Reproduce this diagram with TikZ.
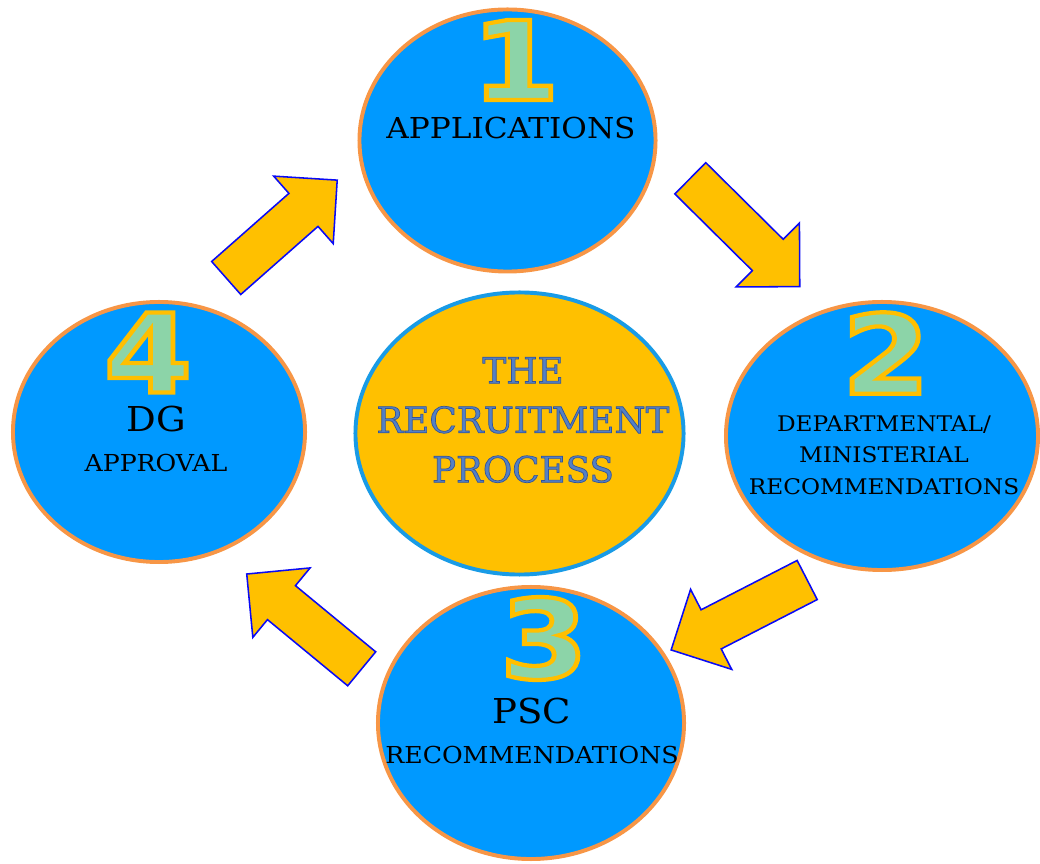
\documentclass[tikz,border=0pt]{standalone}
\usepackage{fontspec}
\usetikzlibrary{shapes.geometric}
\setmainfont{DejaVu Serif}
\newfontfamily\stagefont{DejaVu Serif}[FakeStretch=1.08]
\newfontfamily\numfont{DejaVu Sans}

\definecolor{stageblue}{RGB}{0,153,255}
\definecolor{rimorange}{RGB}{247,150,70}
\definecolor{hubgold}{RGB}{255,192,0}
\definecolor{hubrim}{RGB}{25,155,230}
\definecolor{hubtextblue}{RGB}{84,128,196}
\definecolor{arrowedge}{RGB}{10,10,245}
\definecolor{numgreen}{RGB}{140,212,168}

\newcommand{\bignum}[1]{\scalebox{1.15}[1]{\numfont\bfseries\fontsize{78}{78}\selectfont #1}}
% text drawn filled and stroked: gold rim for the numbers, dark blue rim for the hub title
\newcommand{\goldrim}[1]{\special{pdf:literal direct 2 Tr 3 w 1 0.75 0 RG}#1\special{pdf:literal direct 0 Tr}}
\newcommand{\bluerim}[1]{\special{pdf:literal direct 2 Tr 0.5 w 0.2 0.33 0.6 RG}#1\special{pdf:literal direct 0 Tr}}

\tikzset{
  stage/.style={ellipse, draw=rimorange, fill=stageblue, line width=2.8pt, inner sep=0pt},
  hub/.style={ellipse, draw=hubrim, fill=hubgold, line width=2.8pt, inner sep=0pt},
  numeral/.style={inner sep=0pt, text=numgreen},
  bigcap/.style={inner sep=0pt, font=\stagefont\fontsize{24.4}{28}\selectfont},
  smallcap/.style={inner sep=0pt, font=\stagefont\fontsize{16.6}{20}\selectfont},
  hubtext/.style={inner sep=0pt, align=center, text=hubtextblue, font=\fontsize{25.4}{35.2}\selectfont},
  blockarrow/.pic={
    \draw[fill=hubgold, draw=arrowedge, line width=1.1pt, line join=miter]
      (0,-22) -- ({#1-45},-22) -- ({#1-45},-45) -- (#1,0) -- ({#1-45},45) -- ({#1-45},22) -- (0,22) -- cycle;
  }
}

\begin{document}
\begin{tikzpicture}[x=0.025cm, y=0.025cm]
  \useasboundingbox (0,0) rectangle (1040,863);

  % the four stages and the hub
  \node[stage, minimum width=7.4cm, minimum height=6.55cm] (apps) at (507.5,722.5) {};
  \node[stage, minimum width=7.8cm, minimum height=6.7cm] (dept) at (882,427) {};
  \node[stage, minimum width=7.65cm, minimum height=6.8cm] (psc) at (531,140) {};
  \node[stage, minimum width=7.3cm, minimum height=6.5cm] (dg) at (159,431) {};
  \node[hub, minimum width=8.2cm, minimum height=7.05cm] (hub) at (519.5,429.5) {};

  % arrows round the cycle
  \pic[rotate=41.4] at (226.2,585) {blockarrow=148};
  \pic[rotate=-44.7] at (690.3,684.7) {blockarrow=154};
  \pic[rotate=207.2] at (807.2,283) {blockarrow=153};
  \pic[rotate=140.5] at (361.7,194.2) {blockarrow=149};

  % numbers
  \node[numeral] (numone) at (515.5,803) {\goldrim{\bignum{1}}};
  \node[numeral] (numtwo) at (886,510) {\goldrim{\bignum{2}}};
  \node[numeral] (numthree) at (544,224.5) {\goldrim{\bignum{3}}};
  \node[numeral] (numfour) at (148,510.5) {\goldrim{\bignum{4}}};

  % labels
  \node[inner sep=0pt, font=\stagefont\fontsize{20.5}{24}\selectfont] (appstext) at (511,734.5) {APPLICATIONS};
  \node[inner sep=0pt, align=center, font=\stagefont\fontsize{15.3}{22.4}\selectfont] (depttext) at (884,408) {DEPARTMENTAL/\\MINISTERIAL\\RECOMMENDATIONS};
  \node[bigcap] (psctext) at (532,152) {PSC};
  \node[smallcap] (pscnote) at (532,108) {RECOMMENDATIONS};
  \node[bigcap] (dgtext) at (156.5,443.5) {DG};
  \node[smallcap] (dgnote) at (156,400) {APPROVAL};
  \node[hubtext] (hubtitle) at (523,443) {\bluerim{THE}\\\bluerim{RECRUITMENT}\\\bluerim{PROCESS}};
\end{tikzpicture}
\end{document}
